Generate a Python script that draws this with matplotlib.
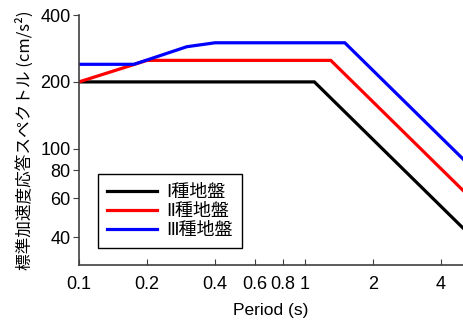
import matplotlib
matplotlib.use("Agg")
import matplotlib.pyplot as plt
from matplotlib.ticker import FixedLocator, NullLocator, FixedFormatter

plt.rcParams['font.family'] = ['Liberation Sans', 'Noto Sans CJK JP', 'DejaVu Sans']

# データ (周期 s, 加速度 cm/s2)
t_ground1 = [0.1, 1.1, 5.0]
s_ground1 = [200, 200, 44]

t_ground2 = [0.1, 0.2, 1.3, 5.0]
s_ground2 = [200, 250, 250, 65]

t_ground3 = [0.1, 0.175, 0.2, 0.3, 0.4, 1.5, 5.0]
s_ground3 = [240, 240, 251, 288, 300, 300, 90]

labels = ['Ⅰ種地盤', 'Ⅱ種地盤', 'Ⅲ種地盤']
colors = ['black', 'red', 'blue']

x_ticks = [0.1, 0.2, 0.4, 0.6, 0.8, 1, 2, 4]
x_tick_labels = ['0.1', '0.2', '0.4', '0.6', '0.8', '1', '2', '4']
y_ticks = [40, 60, 80, 100, 200, 400]
y_tick_labels = ['40', '60', '80', '100', '200', '400']

fig = plt.figure(figsize=(4.63, 3.27), dpi=100)
ax = fig.add_axes([0.1706, 0.1896, 0.8294, 0.7645])

series = [(t_ground1, s_ground1), (t_ground2, s_ground2), (t_ground3, s_ground3)]
for (t, s), lab, c in zip(series, labels, colors):
    ax.plot(t, s, color=c, lw=2.3, label=lab, solid_joinstyle='miter')

ax.set_xscale('log')
ax.set_yscale('log')
ax.set_xlim(0.1, 5.0)
ax.set_ylim(30, 400)

ax.xaxis.set_major_locator(FixedLocator(x_ticks))
ax.xaxis.set_major_formatter(FixedFormatter(x_tick_labels))
ax.xaxis.set_minor_locator(NullLocator())
ax.yaxis.set_major_locator(FixedLocator(y_ticks))
ax.yaxis.set_major_formatter(FixedFormatter(y_tick_labels))
ax.yaxis.set_minor_locator(NullLocator())

ax.tick_params(axis='x', direction='in', length=4, labelsize=13, pad=8, color='#404040')
ax.tick_params(axis='y', direction='out', length=4, labelsize=13, pad=2, color='#404040')

for side in ['top', 'right']:
    ax.spines[side].set_visible(False)
for side in ['left', 'bottom']:
    ax.spines[side].set_color('#404040')
    ax.spines[side].set_linewidth(1.2)

ax.set_xlabel('Period (s)', fontsize=12.5, labelpad=7)
ax.set_ylabel('標準加速度応答スペクトル (cm/s²)', fontsize=12, labelpad=5,
              family=['Noto Sans CJK JP', 'DejaVu Sans'])

leg = ax.legend(loc='lower left', bbox_to_anchor=(0.049, 0.068), borderaxespad=0,
                prop={'family': ['DejaVu Sans', 'Noto Sans CJK JP'], 'size': 13},
                handlelength=2.8, labelspacing=0.05, handletextpad=0.5,
                fancybox=False, framealpha=1, edgecolor='black', borderpad=0.5)
leg.get_frame().set_linewidth(1.0)

plt.savefig('out.png', dpi=100)
plt.close()
